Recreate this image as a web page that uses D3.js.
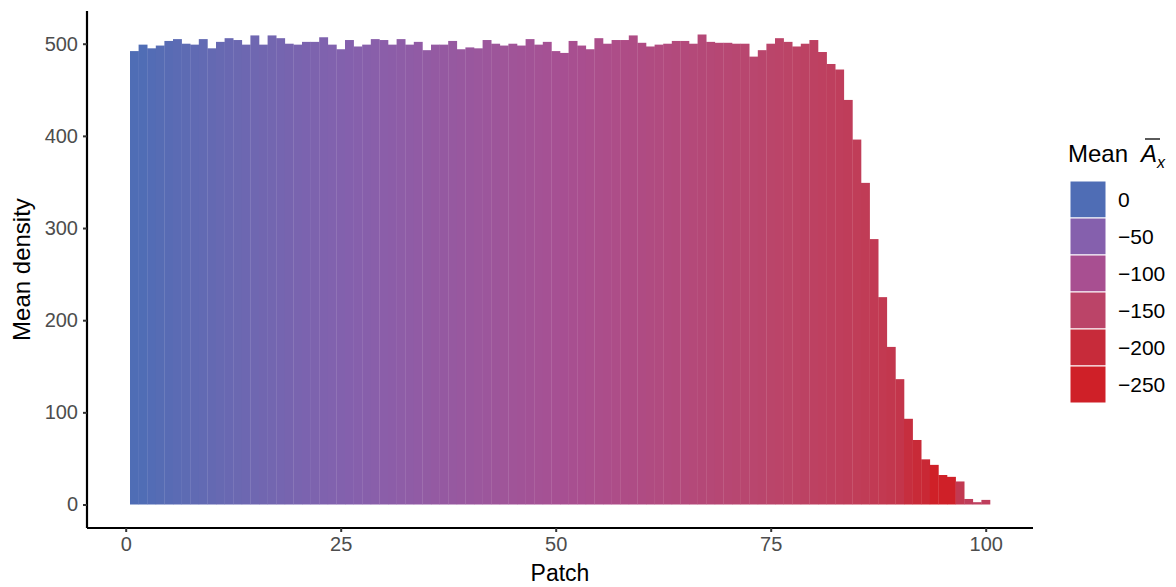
<!DOCTYPE html>
<html>
<head>
<meta charset="utf-8">
<script src="https://cdn.jsdelivr.net/npm/d3@7"></script>
<style>
  body { margin: 0; background: #fff; }
  text { font-family: "Liberation Sans", Arial, sans-serif; }
</style>
</head>
<body>
<div id="chart"></div>
<script>
// Mean density per patch, bar fill from the patch's mean A_x

var patches = d3.range(1, 101);

var density = [
  492, 499, 495, 498, 503, 505, 500, 499, 505, 495,
  502, 506, 504, 499, 509, 499, 509, 506, 500, 499,
  502, 502, 507, 499, 494, 504, 497, 499, 505, 504,
  499, 505, 499, 502, 493, 499, 499, 503, 494, 496,
  495, 504, 500, 498, 500, 498, 505, 499, 502, 492,
  490, 503, 498, 494, 506, 500, 504, 504, 509, 501,
  497, 499, 500, 503, 503, 500, 510, 502, 501, 501,
  500, 500, 486, 493, 500, 506, 502, 497, 500, 504,
  491, 478, 472, 439, 396, 349, 288, 225, 171, 136,
  93, 70, 49, 43, 32, 30, 25, 6, 2.5, 5
];

var meanA = [
  0, -1, -3, -5, -7, -9, -11, -13, -15, -17,
  -19, -21, -23, -25, -27, -29, -31, -33, -35, -37,
  -39, -41, -43, -45, -47, -49, -51, -53, -55, -57,
  -59, -61, -63, -65, -67, -69, -71, -73, -75, -77,
  -79, -81, -83, -85, -87, -89, -91, -93, -95, -97,
  -99, -101, -103, -105, -107, -109, -111, -113, -115, -117,
  -119, -121, -123, -125, -127, -129, -131, -133, -135, -137,
  -139, -141, -143, -145, -147, -149, -151, -153, -155, -157,
  -159, -161, -163, -165, -167, -169, -172, -175, -178, -182,
  -195, -205, -215, -255, -262, -258, -175, -165, -160, -163
];

var legendVals = [0, -50, -100, -150, -200, -250];
var legendColors = ["#4f6db5", "#8560ad", "#a84f91", "#bb4468", "#c72b3a", "#cf2028"];

var xTicks = [0, 25, 50, 75, 100];
var yTicks = [0, 100, 200, 300, 400, 500];

//////////////////////////////////////////////////////////////////////////////

var svgW = 1176, svgH = 587;
var padL = 87, padR = 1033, padT = 11, padB = 528;

var data = patches.map(function(p, i) {
  return { patch: p, density: density[i], A: meanA[i] };
});

var xScale = d3.scaleLinear().domain([-4.5, 105.5]).range([padL, padR]);
var yMax = d3.max(density);
var yScale = d3.scaleLinear().domain([-0.05 * yMax, yMax * 1.05]).range([padB, padT]);

var color = d3.scaleLinear()
  .domain(legendVals)
  .range(legendColors)
  .interpolate(d3.interpolateLab)
  .clamp(true);

var svg = d3.select("#chart")
  .append("svg")
  .attr("width", svgW)
  .attr("height", svgH);

// bars (slightly overlapping so no seams show)
svg.append("g")
  .selectAll("rect")
  .data(data)
  .enter()
  .append("rect")
  .attr("x", function(d) { return xScale(d.patch - 0.5); })
  .attr("y", function(d) { return yScale(d.density); })
  .attr("width", xScale(1) - xScale(0) + 0.3)
  .attr("height", function(d) { return yScale(0) - yScale(d.density); })
  .attr("fill", function(d) { return color(d.A); });

// axes
var xAxis = svg.append("g")
  .attr("transform", "translate(0," + padB + ")")
  .call(d3.axisBottom(xScale).tickValues(xTicks).tickSize(4).tickPadding(5));

var yAxis = svg.append("g")
  .attr("transform", "translate(" + padL + ",0)")
  .call(d3.axisLeft(yScale).tickValues(yTicks).tickSize(4).tickPadding(5));

[xAxis, yAxis].forEach(function(ax) {
  ax.select(".domain").attr("stroke", "#000").attr("stroke-width", 2.2);
  ax.selectAll(".tick line").attr("stroke", "#333").attr("stroke-width", 2);
  ax.selectAll(".tick text")
    .attr("fill", "#4d4d4d")
    .style("font-size", "20px")
    .style("font-family", "Liberation Sans, Arial, sans-serif");
});
xAxis.select(".domain").attr("d", "M" + padL + ",0H" + padR);
yAxis.select(".domain").attr("d", "M0," + padT + "V" + padB);

// axis titles
svg.append("text")
  .attr("x", (padL + padR) / 2)
  .attr("y", 581)
  .attr("text-anchor", "middle")
  .style("font-size", "23px")
  .text("Patch");

svg.append("text")
  .attr("transform", "translate(30," + (padT + padB) / 2 + ") rotate(-90)")
  .attr("text-anchor", "middle")
  .style("font-size", "24px")
  .text("Mean density");

// legend
var lg = svg.append("g");
var title = lg.append("text")
  .attr("x", 1068)
  .attr("y", 162)
  .style("font-size", "24px");
title.append("tspan").text("Mean");
title.append("tspan").attr("x", 1141).style("font-style", "italic").text("A");
title.append("tspan").attr("dy", 6).style("font-style", "italic").style("font-size", "16px").text("x");
lg.append("line")
  .attr("x1", 1145).attr("x2", 1160)
  .attr("y1", 139).attr("y2", 139)
  .attr("stroke", "#000").attr("stroke-width", 1.3);

var keyH = 37;
lg.selectAll("rect")
  .data(legendVals)
  .enter()
  .append("rect")
  .attr("x", 1070)
  .attr("y", function(d, i) { return 181 + i * keyH; })
  .attr("width", 36)
  .attr("height", keyH)
  .attr("fill", function(d) { return color(d); })
  .attr("stroke", "#fff")
  .attr("stroke-width", 1);

lg.selectAll("text.lab")
  .data(legendVals)
  .enter()
  .append("text")
  .attr("class", "lab")
  .attr("x", 1118)
  .attr("y", function(d, i) { return 181 + i * keyH + keyH / 2 + 7; })
  .style("font-size", "21px")
  .text(function(d) { return d === 0 ? "0" : "\u2212" + Math.abs(d); });
</script>
</body>
</html>
